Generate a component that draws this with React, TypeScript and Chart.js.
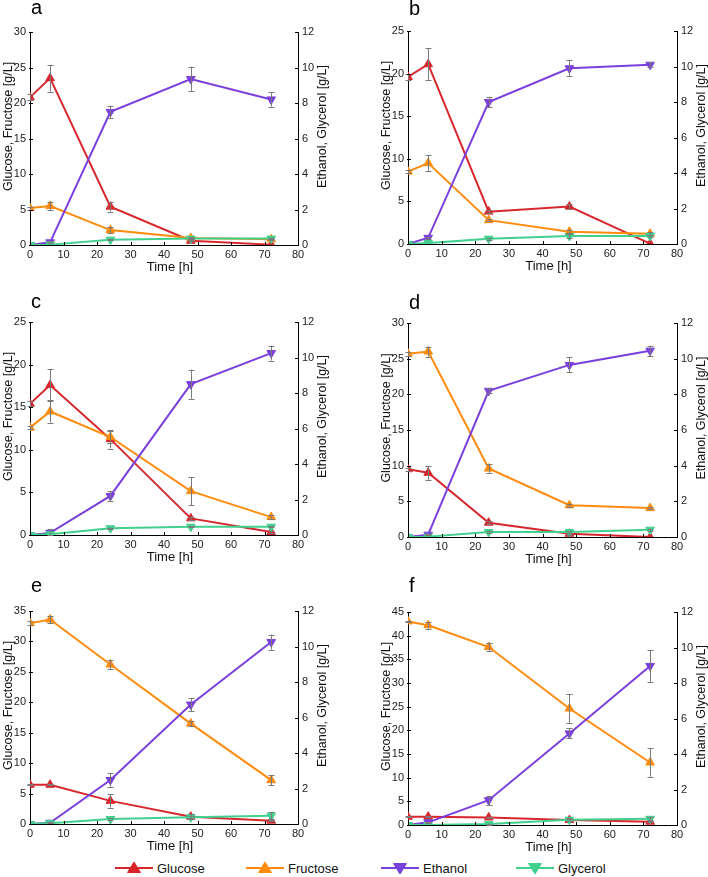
import React, { useEffect, useRef } from "react";
import { Chart, registerables } from "chart.js";

Chart.register(...registerables);

// ---------- DATA ----------
const timeH = [0, 6, 24, 48, 72];
const seriesNames = ["Glucose", "Fructose", "Ethanol", "Glycerol"];
const panelLetters = ["a", "b", "c", "d", "e", "f"];
const leftAxisMax = [30, 25, 25, 30, 35, 45];
const rightAxisMax = 12;

// panel a
const aGlucose = [20.8, 23.5, 5.4, 0.6, 0.05];
const aGlucoseErr = [0.4, 1.9, 0.7, 0.1, 0];
const aFructose = [5.2, 5.5, 2.1, 1.0, 0.8];
const aFructoseErr = [0.2, 0.6, 0.4, 0.1, 0.1];
const aEthanol = [0, 0.15, 7.5, 9.35, 8.2];
const aEthanolErr = [0, 0.05, 0.35, 0.7, 0.4];
const aGlycerol = [0, 0.02, 0.3, 0.36, 0.36];
const aGlycerolErr = [0, 0, 0.03, 0.05, 0.05];

// panel b
const bGlucose = [19.6, 21.1, 3.8, 4.4, 0.05];
const bGlucoseErr = [0.3, 1.9, 0.2, 0.3, 0];
const bFructose = [8.5, 9.5, 2.8, 1.45, 1.2];
const bFructoseErr = [0.2, 0.9, 0.1, 0.2, 0.2];
const bEthanol = [0, 0.35, 8.0, 9.9, 10.1];
const bEthanolErr = [0, 0.05, 0.3, 0.45, 0.15];
const bGlycerol = [0, 0.05, 0.3, 0.45, 0.45];
const bGlycerolErr = [0, 0, 0.05, 0.1, 0.08];

// panel c
const cGlucose = [15.4, 17.6, 11.25, 1.95, 0.35];
const cGlucoseErr = [0.3, 1.9, 1.1, 0.2, 0.1];
const cFructose = [12.6, 14.5, 11.5, 5.15, 2.1];
const cFructoseErr = [0.2, 1.3, 0.65, 1.65, 0.2];
const cEthanol = [0, 0.12, 2.2, 8.5, 10.25];
const cEthanolErr = [0, 0.2, 0.28, 0.82, 0.42];
const cGlycerol = [0, 0.04, 0.38, 0.47, 0.47];
const cGlycerolErr = [0, 0, 0.04, 0.04, 0.04];

// panel d
const dGlucose = [9.5, 9.0, 2.0, 0.45, 0.0];
const dGlucoseErr = [0.2, 1.0, 0.2, 0.1, 0];
const dFructose = [25.7, 26.0, 9.6, 4.45, 4.05];
const dFructoseErr = [0.3, 0.7, 0.6, 0.2, 0.1];
const dEthanol = [0, 0.13, 8.2, 9.65, 10.45];
const dEthanolErr = [0, 0.02, 0.15, 0.42, 0.28];
const dGlycerol = [0, 0.02, 0.28, 0.28, 0.41];
const dGlycerolErr = [0, 0, 0.03, 0.05, 0.05];

// panel e
const eGlucose = [6.45, 6.45, 3.8, 1.2, 0.55];
const eGlucoseErr = [0.1, 0.1, 1.1, 0.4, 0.1];
const eFructose = [33.0, 33.6, 26.2, 16.5, 7.2];
const eFructoseErr = [0.3, 0.6, 0.8, 0.4, 0.8];
const eEthanol = [0, 0.07, 2.48, 6.73, 10.25];
const eEthanolErr = [0, 0.02, 0.37, 0.37, 0.42];
const eGlycerol = [0, 0.04, 0.28, 0.38, 0.47];
const eGlycerolErr = [0, 0, 0.03, 0.05, 0.2];

// panel f
const fGlucose = [1.75, 1.75, 1.6, 1.05, 0.7];
const fGlucoseErr = [0.1, 0.1, 0.1, 0.2, 0.1];
const fFructose = [43.0, 42.2, 37.6, 24.6, 13.2];
const fFructoseErr = [0.2, 0.7, 0.9, 3.0, 3.0];
const fEthanol = [0, 0.15, 1.4, 5.16, 8.96];
const fEthanolErr = [0, 0.02, 0.25, 0.28, 0.9];
const fGlycerol = [0, 0.0, 0.05, 0.3, 0.35];
const fGlycerolErr = [0, 0, 0.03, 0.08, 0.08];

const panelValues = [
  [aGlucose, aFructose, aEthanol, aGlycerol],
  [bGlucose, bFructose, bEthanol, bGlycerol],
  [cGlucose, cFructose, cEthanol, cGlycerol],
  [dGlucose, dFructose, dEthanol, dGlycerol],
  [eGlucose, eFructose, eEthanol, eGlycerol],
  [fGlucose, fFructose, fEthanol, fGlycerol],
];
const panelErrors = [
  [aGlucoseErr, aFructoseErr, aEthanolErr, aGlycerolErr],
  [bGlucoseErr, bFructoseErr, bEthanolErr, bGlycerolErr],
  [cGlucoseErr, cFructoseErr, cEthanolErr, cGlycerolErr],
  [dGlucoseErr, dFructoseErr, dEthanolErr, dGlycerolErr],
  [eGlucoseErr, eFructoseErr, eEthanolErr, eGlycerolErr],
  [fGlucoseErr, fFructoseErr, fEthanolErr, fGlycerolErr],
];

const leftTitle = "Glucose, Fructose [g/L]";
const rightTitle = "Ethanol, Glycerol [g/L]";
const xTitle = "Time [h]";

// ---------- STYLE / LAYOUT ----------
const seriesColors = ["#d8272c", "#ff8b0d", "#7a3fdc", "#42d08e"];
const seriesUp = [true, true, false, false];
const seriesOrder = [3, 2, 1, 0];
const FONT = '"Liberation Sans", Arial, Helvetica, sans-serif';

// page-coordinate layout for each panel
const panelLayout = [
  { x0: 0, y0: 0, w: 354, h: 290, L: 30, R: 298, T: 32, B: 245, lx: 31, ly: 14 },
  { x0: 354, y0: 0, w: 354, h: 290, L: 408, R: 677, T: 31, B: 244, lx: 409, ly: 15 },
  { x0: 0, y0: 290, w: 354, h: 280, L: 30, R: 298, T: 322, B: 535, lx: 31, ly: 308 },
  { x0: 354, y0: 290, w: 354, h: 280, L: 408, R: 677, T: 323, B: 537, lx: 409, ly: 309 },
  { x0: 0, y0: 570, w: 354, h: 286, L: 30, R: 298, T: 611, B: 824, lx: 31, ly: 592 },
  { x0: 354, y0: 570, w: 354, h: 286, L: 408, R: 677, T: 612, B: 825, lx: 409, ly: 592 },
];
const legendX = [115, 246, 381, 516];

const extrasPlugin = {
  id: "panelExtras",
  afterDatasetsDraw(chart: any) {
    const ctx = chart.ctx;
    ctx.save();
    ctx.strokeStyle = "#7a7a7a";
    ctx.lineWidth = 1;
    chart.data.datasets.forEach((ds: any, i: number) => {
      const meta = chart.getDatasetMeta(i);
      const scale = chart.scales[ds.yAxisID];
      ds.data.forEach((pt: any, j: number) => {
        const e = ds.errors ? ds.errors[j] : 0;
        if (!e) return;
        const el = meta.data[j];
        const x = Math.round(el.x) + 0.5;
        const yTop = scale.getPixelForValue(pt.y + e);
        const yBot = scale.getPixelForValue(Math.max(pt.y - e, 0));
        ctx.beginPath();
        ctx.moveTo(x, yTop);
        ctx.lineTo(x, yBot);
        ctx.moveTo(x - 3, Math.round(yTop) + 0.5);
        ctx.lineTo(x + 3, Math.round(yTop) + 0.5);
        ctx.moveTo(x - 3, Math.round(yBot) + 0.5);
        ctx.lineTo(x + 3, Math.round(yBot) + 0.5);
        ctx.stroke();
      });
    });
    ctx.restore();
  },
  afterDraw(chart: any, _args: any, opts: any) {
    const ctx = chart.ctx;
    const { left, right, top, bottom } = chart.chartArea;
    ctx.save();
    // inward tick marks
    ctx.strokeStyle = "#000";
    ctx.lineWidth = 1;
    ctx.beginPath();
    const sx = chart.scales.x;
    sx.ticks.forEach((_t: any, i: number) => {
      const p = Math.round(sx.getPixelForTick(i)) + 0.5;
      ctx.moveTo(p, bottom);
      ctx.lineTo(p, bottom - 3);
    });
    const sy = chart.scales.y;
    sy.ticks.forEach((_t: any, i: number) => {
      const p = Math.round(sy.getPixelForTick(i)) + 0.5;
      ctx.moveTo(left - 1, p);
      ctx.lineTo(left + 3, p);
    });
    const sy1 = chart.scales.y1;
    sy1.ticks.forEach((_t: any, i: number) => {
      const p = Math.round(sy1.getPixelForTick(i)) + 0.5;
      ctx.moveTo(right - 3, p);
      ctx.lineTo(right + 1, p);
    });
    ctx.stroke();

    // axis titles
    ctx.fillStyle = "#111";
    ctx.font = `12.5px ${FONT}`;
    ctx.textAlign = "center";
    ctx.textBaseline = "middle";
    const cy = (top + bottom) / 2 - 12;
    ctx.save();
    ctx.translate(left - 21, cy);
    ctx.rotate(-Math.PI / 2);
    ctx.fillText(opts.leftTitle, 0, 0);
    ctx.restore();
    ctx.save();
    ctx.translate(right + 25, cy);
    ctx.rotate(-Math.PI / 2);
    ctx.fillText(opts.rightTitle, 0, 0);
    ctx.restore();
    ctx.font = `13px ${FONT}`;
    ctx.fillText(opts.xTitle, (left + right) / 2 + 6, bottom + 22);

    // panel letter
    ctx.font = `20px ${FONT}`;
    ctx.textAlign = "left";
    ctx.textBaseline = "alphabetic";
    ctx.fillStyle = "#000";
    ctx.fillText(opts.letter, opts.lx, opts.ly);
    ctx.restore();
  },
};

function Panel({ idx }: { idx: number }) {
  const ref = useRef<HTMLCanvasElement>(null);
  const lay = panelLayout[idx];
  useEffect(() => {
    if (!ref.current) return;
    const leftW = lay.L - lay.x0;
    const rightW = lay.x0 + lay.w - lay.R;
    const padTop = lay.T - lay.y0;
    const xH = lay.y0 + lay.h - lay.B;
    const tickFont = { family: FONT, size: 11 };
    const datasets = seriesNames.map((name, s) => ({
      label: name,
      data: timeH.map((t, j) => ({ x: t, y: panelValues[idx][s][j] })),
      errors: panelErrors[idx][s],
      yAxisID: s < 2 ? "y" : "y1",
      borderColor: seriesColors[s],
      backgroundColor: seriesColors[s],
      borderWidth: 2,
      pointStyle: "triangle",
      pointRotation: seriesUp[s] ? 0 : 180,
      pointRadius: 5,
      pointBorderWidth: 1,
      pointBorderColor: seriesColors[s],
      pointBackgroundColor: seriesColors[s],
      order: seriesOrder[s],
      tension: 0,
    }));
    const chart = new Chart(ref.current, {
      type: "line",
      data: { datasets } as any,
      plugins: [extrasPlugin as any],
      options: {
        responsive: false,
        animation: false,
        layout: { padding: { top: padTop, left: 0, right: 0, bottom: 0 } },
        plugins: {
          legend: { display: false },
          tooltip: { enabled: false },
          panelExtras: {
            leftTitle,
            rightTitle,
            xTitle,
            letter: panelLetters[idx],
            lx: lay.lx - lay.x0,
            ly: lay.ly - lay.y0,
          },
        } as any,
        scales: {
          x: {
            type: "linear",
            min: 0,
            max: 80,
            ticks: { stepSize: 10, font: tickFont, color: "#222", padding: 3, maxRotation: 0 },
            grid: { display: false, drawTicks: false },
            border: { display: true, color: "#000", width: 1 },
            afterFit: (s: any) => {
              s.height = xH;
            },
          },
          y: {
            type: "linear",
            position: "left",
            min: 0,
            max: leftAxisMax[idx],
            ticks: { stepSize: 5, font: tickFont, color: "#222", padding: 4 },
            grid: { display: false, drawTicks: false },
            border: { display: true, color: "#000", width: 1 },
            afterFit: (s: any) => {
              s.width = leftW;
            },
          },
          y1: {
            type: "linear",
            position: "right",
            min: 0,
            max: rightAxisMax,
            ticks: { stepSize: 2, font: tickFont, color: "#222", padding: 4 },
            grid: { display: false, drawTicks: false },
            border: { display: true, color: "#000", width: 1 },
            afterFit: (s: any) => {
              s.width = rightW;
            },
          },
        } as any,
      },
    });
    return () => chart.destroy();
  }, [idx]);
  return (
    <canvas
      ref={ref}
      width={lay.w}
      height={lay.h}
      style={{ position: "absolute", left: lay.x0, top: lay.y0, width: lay.w, height: lay.h }}
    />
  );
}

function LegendItem({ s }: { s: number }) {
  const c = seriesColors[s];
  const pts = seriesUp[s] ? "12.5,14.5 25.5,14.5 19,4" : "12.5,5.5 25.5,5.5 19,16";
  return (
    <div
      style={{
        position: "absolute",
        left: legendX[s],
        top: 0,
        height: 20,
        display: "flex",
        alignItems: "center",
        whiteSpace: "nowrap",
      }}
    >
      <svg width={38} height={20} style={{ display: "block" }}>
        <line x1={0} y1={10} x2={38} y2={10} stroke={c} strokeWidth={2} />
        <polygon points={pts} fill={c} stroke={c} strokeWidth={1} />
      </svg>
      <span style={{ font: `13px ${FONT}`, color: "#111", marginLeft: 4 }}>{seriesNames[s]}</span>
    </div>
  );
}

export default function App() {
  return (
    <div
      style={{
        position: "absolute",
        left: 0,
        top: 0,
        width: 708,
        height: 877,
        background: "#fff",
        overflow: "hidden",
      }}
    >
      {panelLetters.map((_l, i) => (
        <Panel key={i} idx={i} />
      ))}
      <div style={{ position: "absolute", left: 0, top: 858, width: 708, height: 20 }}>
        {seriesNames.map((_n, s) => (
          <LegendItem key={s} s={s} />
        ))}
      </div>
    </div>
  );
}
